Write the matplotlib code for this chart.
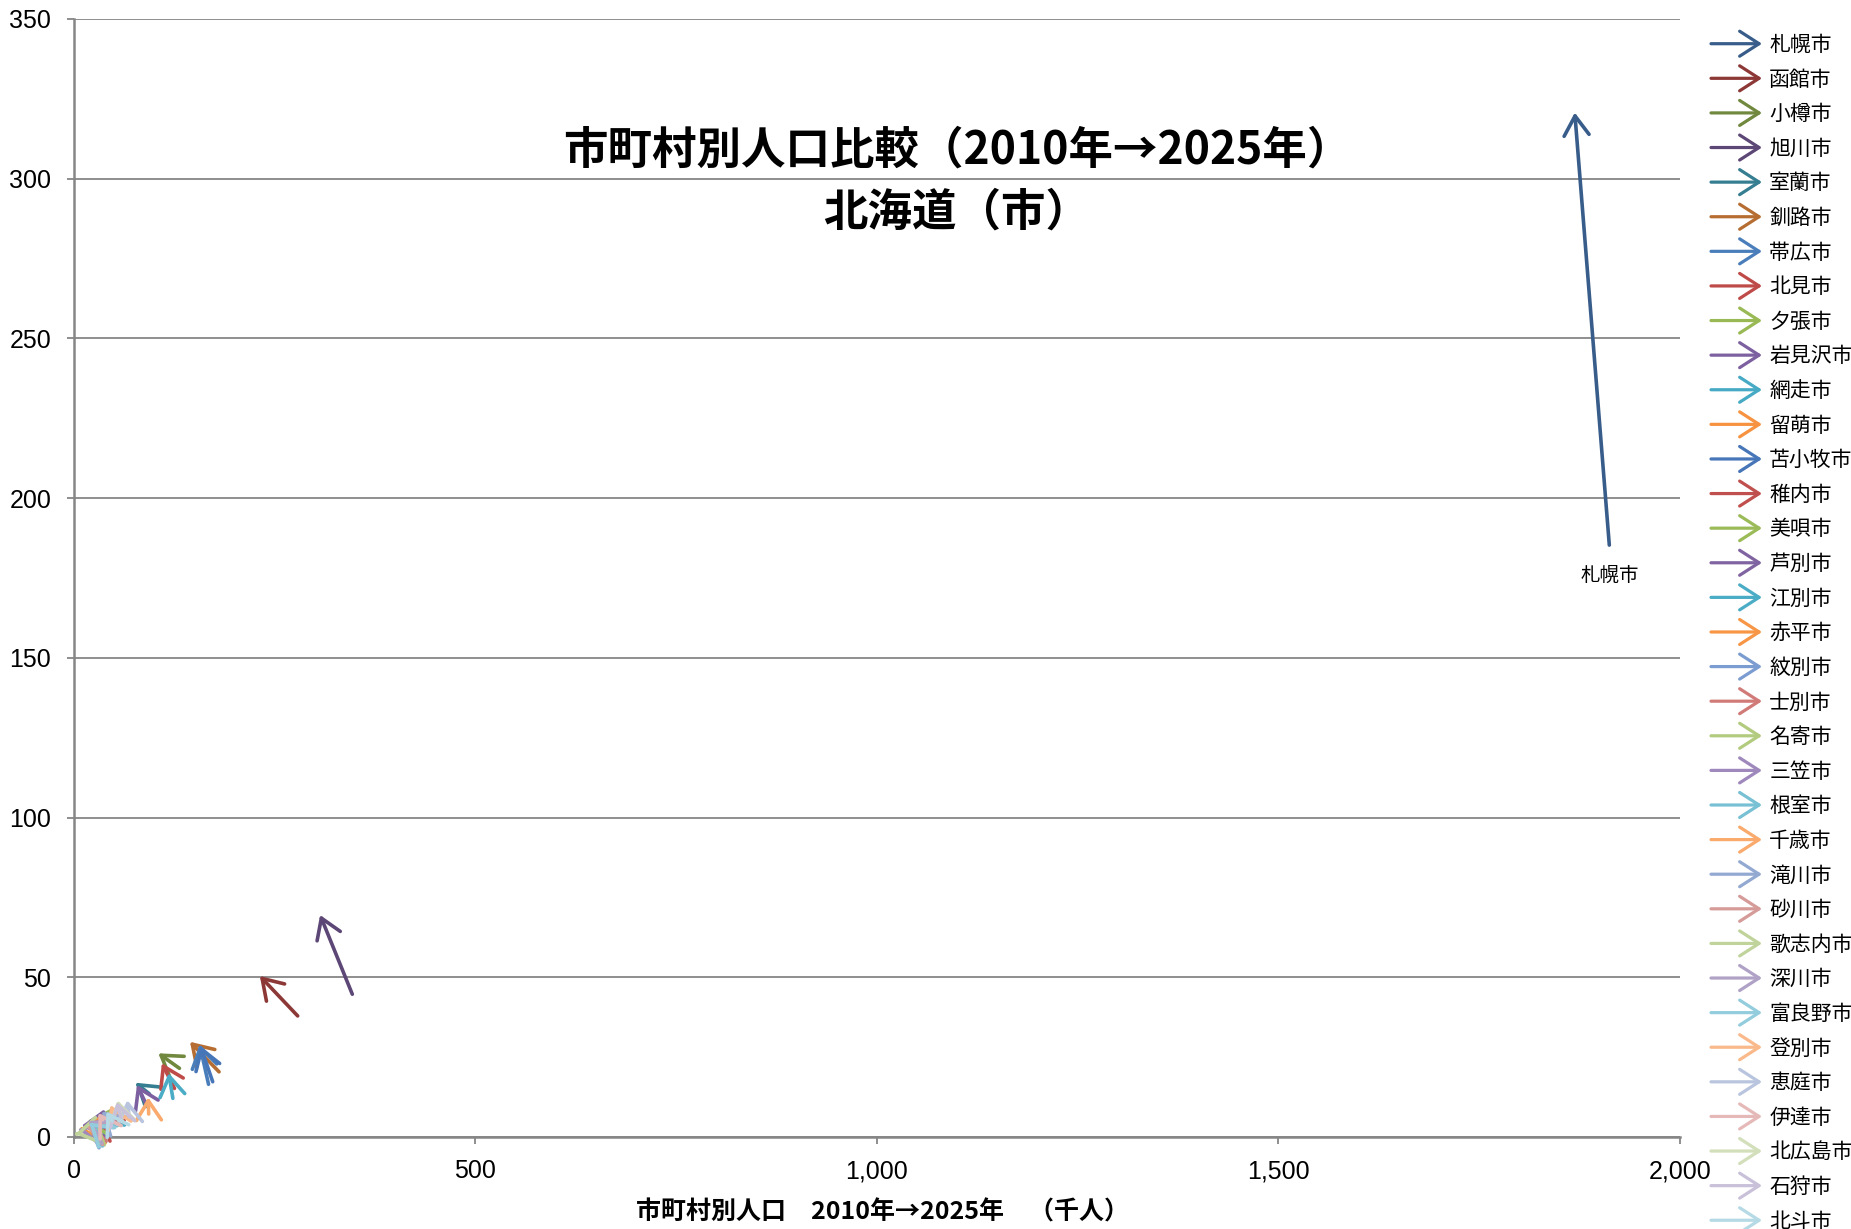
import matplotlib
matplotlib.use("Agg")
import matplotlib.pyplot as plt
from matplotlib.lines import Line2D
from matplotlib.patches import FancyArrowPatch
from matplotlib.legend_handler import HandlerBase
from matplotlib.ticker import FuncFormatter

plt.rcParams["font.family"] = ["Noto Sans CJK JP", "DejaVu Sans"]

cities = ["札幌市", "函館市", "小樽市", "旭川市", "室蘭市", "釧路市", "帯広市",
          "北見市", "夕張市", "岩見沢市", "網走市", "留萌市", "苫小牧市", "稚内市",
          "美唄市", "芦別市", "江別市", "赤平市", "紋別市", "士別市", "名寄市",
          "三笠市", "根室市", "千歳市", "滝川市", "砂川市", "歌志内市", "深川市",
          "富良野市", "登別市", "恵庭市", "伊達市", "北広島市", "石狩市", "北斗市"]

# population (thousands), 2010 -> 2025
pop_2010 = [1912, 279.1, 131.9, 347.1, 94.5, 181.2, 168.1, 125.7, 10.9, 90.1,
            40.0, 24.5, 173.3, 39.6, 26.0, 16.6, 123.7, 12.6, 24.0, 21.8, 30.6,
            10.2, 29.2, 93.6, 43.2, 19.1, 4.4, 23.7, 24.3, 51.5, 69.4, 36.3,
            60.4, 59.4, 48.0]
pop_2025 = [1869, 232, 105.6, 307, 77, 145, 157, 110, 6.5, 79,
            33, 17, 158, 31, 17, 10, 118.5, 7.5, 18, 16, 25.5,
            6.5, 22, 93, 35, 14.5, 2.3, 18, 19.5, 46, 67, 31,
            55, 54, 41]
y_2010 = [185.3, 37.9, 21.5, 44.7, 13.5, 20.4, 16.5, 15.2, 2.4, 10.5,
          4.5, 3.4, 17.3, 4.5, 4.8, 3.6, 12.1, 2.5, 2.9, 3.7, 4.0,
          2.2, 3.2, 7.2, 6.2, 3.3, 1.0, 4.2, 3.5, 6.8, 6.3, 5.4,
          5.0, 5.8, 5.0]
y_2025 = [320.7, 50.4, 26.2, 69.5, 17.0, 29.8, 29.0, 23.1, 2.5, 16.3,
          6.5, 4.0, 28.5, 6.0, 5.0, 3.5, 20.0, 2.5, 4.0, 4.0, 5.0,
          2.3, 4.5, 12.4, 8.0, 3.7, 0.9, 5.0, 4.5, 10.0, 11.5, 7.5,
          11.5, 11.0, 8.0]

colors = ["#385D8A", "#8C3836", "#71893F", "#5C4776", "#357D91", "#B66D31",
          "#4A7EBB", "#BE4B48", "#98B954", "#7D60A0", "#46AAC5", "#F69240",
          "#4776B8", "#C0504D", "#9BBB59", "#8064A2", "#4BACC6", "#F79646",
          "#7A9CD0", "#D17B79", "#B2CB7F", "#9E88BC", "#78C0D4", "#F9AA6C",
          "#93A9D2", "#D59B99", "#BFD39A", "#B0A2C6", "#93CDDD", "#FAB98B",
          "#B9C5DE", "#E5B9B8", "#D2DFBA", "#C9C1D9", "#B5DAE5"]

x_ticks = [0, 500, 1000, 1500, 2000]
y_ticks = [0, 50, 100, 150, 200, 250, 300, 350]

ARROW = "->,head_length=0.7,head_width=0.45"
GRAY = "#868686"


class ArrowHandler(HandlerBase):
    def create_artists(self, legend, orig_handle, xdescent, ydescent,
                       width, height, fontsize, trans):
        y = height / 2 - ydescent
        arrow = FancyArrowPatch((-xdescent, y), (width - xdescent, y),
                                arrowstyle=ARROW, mutation_scale=20,
                                color=orig_handle.get_color(), lw=2.3,
                                capstyle="round", joinstyle="round",
                                shrinkA=0, shrinkB=0, transform=trans)
        return [arrow]


fig = plt.figure(figsize=(18.51, 12.29), dpi=100)
ax = fig.add_axes([73.5 / 1851, 92 / 1229, 1606.5 / 1851, 1118 / 1229])

ax.set_xlim(x_ticks[0], x_ticks[-1])
ax.set_ylim(y_ticks[0], y_ticks[-1])
ax.set_xticks(x_ticks)
ax.set_yticks(y_ticks)
ax.xaxis.set_major_formatter(FuncFormatter(lambda v, p: f"{v:,.0f}"))
ax.yaxis.grid(True, color=GRAY, lw=1.3)
ax.set_axisbelow(True)
for side in ["top", "right"]:
    ax.spines[side].set_visible(False)
for side in ["left", "bottom"]:
    ax.spines[side].set_color(GRAY)
    ax.spines[side].set_linewidth(1.8)
ax.tick_params(direction="out", length=5, width=1.3, color=GRAY,
               labelsize=18, pad=11)
for lbl in ax.get_xticklabels() + ax.get_yticklabels():
    lbl.set_family(["Liberation Sans Narrow", "Liberation Sans", "DejaVu Sans"])

for i in range(len(cities)):
    ax.annotate("", xy=(pop_2025[i], y_2025[i]), xytext=(pop_2010[i], y_2010[i]),
                arrowprops=dict(arrowstyle=ARROW, mutation_scale=20,
                                color=colors[i], lw=2.6, capstyle="round",
                                joinstyle="round", shrinkA=0, shrinkB=0))

# label for the largest city, under the starting point
ax.annotate(cities[0], xy=(pop_2010[0], y_2010[0]), xytext=(0, -21.5),
            textcoords="offset points", ha="center", va="center", fontsize=14)

ax.text(0.55, 0.882, "市町村別人口比較（2010年→2025年）", transform=ax.transAxes,
        ha="center", va="center", fontsize=32, fontweight="bold")
ax.text(0.55, 0.827, "北海道（市）", transform=ax.transAxes,
        ha="center", va="center", fontsize=32, fontweight="bold")

fig.text(882 / 1851, 17 / 1229, "市町村別人口　2010年→2025年　（千人）",
         ha="center", va="center", fontsize=18, fontweight="bold")

handles = [Line2D([], [], color=c) for c in colors]
fig.legend(handles, cities, loc="upper left",
           bbox_to_anchor=(1711 / 1851, 1 - 34 / 1229),
           frameon=False, fontsize=15, handlelength=2.45, handletextpad=0.34,
           labelspacing=0.605, borderpad=0, borderaxespad=0,
           handler_map={Line2D: ArrowHandler()})

fig.savefig("out.png", dpi=100)
